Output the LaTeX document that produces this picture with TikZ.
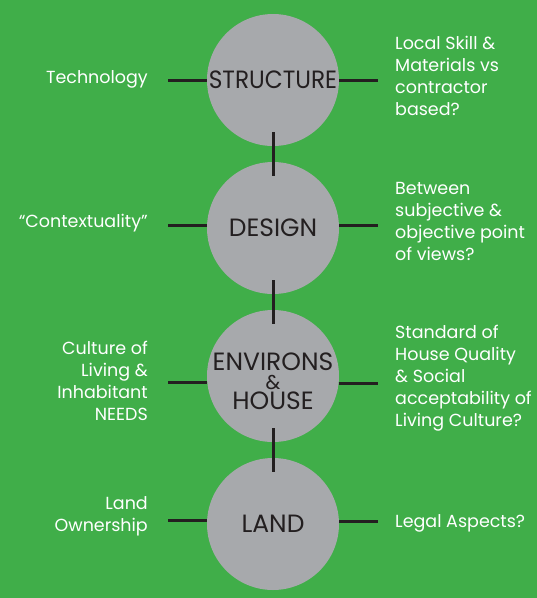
\documentclass[tikz,border=0pt]{standalone}
\usepackage{fontspec}
\setmainfont{Poppins}
\definecolor{field}{RGB}{64,174,73}
\definecolor{stagegrey}{RGB}{167,169,172}
\definecolor{ink}{RGB}{35,31,32}
\tikzset{
  stage/.style={circle, fill=stagegrey, minimum size=132pt, inner sep=0pt,
    text=ink, font=\fontsize{25}{19.5}\selectfont},
  stagetext/.style={inner sep=0pt, text=ink, align=center,
    font=\fontsize{25}{19.5}\selectfont},
  link/.style={draw=ink, line width=3pt},
  note/.style={text=white, inner sep=0pt, font=\fontsize{17.5}{22}\selectfont},
  leftnote/.style={note, anchor=east, align=right},
  rightnote/.style={note, anchor=west, align=left}
}
\begin{document}
\begin{tikzpicture}[x=1pt,y=-1pt]
  \fill[field] (0,0) rectangle (537,598);
  \useasboundingbox (0,0) rectangle (537,598);

  % the four stages, top to bottom
  \node[stage] (st) at (273,80) {\scalebox{0.93}[1]{STRUCTURE}};
  \node[stage] (de) at (273,228) {DESIGN};
  \node[stage] (en) at (273,376) {};
  \node[stagetext] (entext) at (273,381) {ENVIRONS\\{\fontsize{20}{19.5}\selectfont\&}\\HOUSE};
  \node[stage] (la) at (273,524) {LAND};

  % spine joining the stages
  \draw[link] ([yshift=14pt]st.south) -- ([yshift=-14pt]de.north);
  \draw[link] ([yshift=14pt]de.south) -- ([yshift=-14pt]en.north);
  \draw[link] ([yshift=14pt]en.south) -- ([yshift=-14pt]la.north);

  % side notes
  \node[leftnote] (tech) at (148,79) {Technology};
  \node[leftnote] (ctx) at (148,223) {“Contextuality”};
  \node[leftnote] (cult) at (148,381) {Culture of\\Living \&\\Inhabitant\\NEEDS};
  \node[leftnote] (own) at (148,516) {Land\\Ownership};

  \node[rightnote] (skill) at (395,76) {Local Skill \&\\Materials vs\\contractor\\based?};
  \node[rightnote] (view) at (395,221) {Between\\subjective \&\\objective point\\of views?};
  \node[rightnote] (std) at (395,378) {Standard of\\House Quality\\\& Social\\acceptability of\\Living Culture?};
  \node[rightnote] (legal) at (395,523) {Legal Aspects?};

  % free ends of the side ticks
  \coordinate (stL) at (168,80);  \coordinate (stR) at (378,80);
  \coordinate (deL) at (168,225); \coordinate (deR) at (378,225);
  \coordinate (enL) at (168,382); \coordinate (enR) at (378,383);
  \coordinate (laL) at (168,520); \coordinate (laR) at (378,521);

  \draw[link] (stL) -- (stL -| st.west);  \draw[link] (stR -| st.east) -- (stR);
  \draw[link] (deL) -- (deL -| de.west);  \draw[link] (deR -| de.east) -- (deR);
  \draw[link] (enL) -- (enL -| en.west);  \draw[link] (enR -| en.east) -- (enR);
  \draw[link] (laL) -- (laL -| la.west);  \draw[link] (laR -| la.east) -- (laR);
\end{tikzpicture}
\end{document}
